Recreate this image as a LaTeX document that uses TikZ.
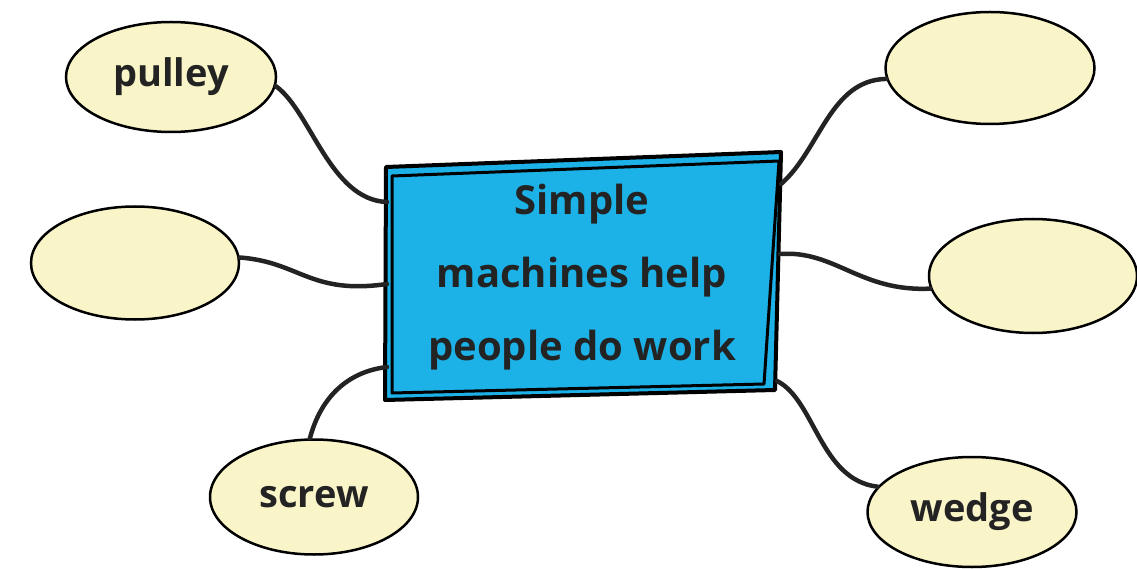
\documentclass[tikz,border=0pt]{standalone}
\usepackage{fontspec}
\setmainfont{Open Sans}
\usetikzlibrary{shapes.geometric}
\definecolor{bubble}{RGB}{250,245,200}
\definecolor{boxblue}{RGB}{28,178,232}
\definecolor{ink}{RGB}{35,35,35}
\tikzset{
  bubblenode/.style={ellipse, draw=black, line width=2.5pt, fill=bubble, inner sep=0pt,
    font=\fontsize{38}{42}\selectfont\bfseries, text=ink},
  conn/.style={draw=ink, line width=4.5pt, line cap=round},
  boxline/.style={draw=black, line width=4pt, line join=round}
}
\begin{document}
\begin{tikzpicture}[x=1pt,y=-1pt]
\useasboundingbox (0,0) rectangle (1137,569);
% central box
\filldraw[boxline, fill=boxblue] (386,167) -- (781,152) -- (775,390) -- (385,400) -- cycle;
\draw[boxline, line width=3pt] (392,176) -- (779,161) -- (764,384) -- (392,393) -- cycle;
\node[font=\fontsize{40}{73}\selectfont\bfseries, text=ink, align=center] (box) at (582,277)
  {Simple\\machines help\\people do work};
% connection points on the box
\coordinate (bl1) at (387,202);
\coordinate (bl2) at (387,284);
\coordinate (bl3) at (387,367);
\coordinate (br1) at (781,184);
\coordinate (br2) at (780,254);
\coordinate (br3) at (777,381);
% bubbles
\node[bubblenode, minimum width=210pt, minimum height=110pt] (pulley) at (171,77) {pulley};
\node[bubblenode, minimum width=208pt, minimum height=113pt] (left) at (135,263) {};
\node[bubblenode, minimum width=208pt, minimum height=115pt] (screw) at (314,497) {screw};
\node[bubblenode, minimum width=209pt, minimum height=112pt] (topright) at (990,68) {};
\node[bubblenode, minimum width=208pt, minimum height=114pt] (midright) at (1033,276) {};
\node[bubblenode, minimum width=209pt, minimum height=110pt] (wedge) at (972,512) {wedge};
% connectors
\draw[conn] (pulley.-5) .. controls +(35,25) and (330,200) .. (bl1);
\draw[conn] (left.3) .. controls (300,262) and (310,295) .. (bl2);
\draw[conn] (screw.94) .. controls (320,400) and (345,372) .. (bl3);
\draw[conn] (br1) .. controls (820,150) and (830,80) .. (topright.186);
\draw[conn] (br2) .. controls (835,250) and (860,292) .. (midright.187);
\draw[conn] (br3) .. controls (815,400) and (820,480) .. (wedge.165);
\end{tikzpicture}
\end{document}
